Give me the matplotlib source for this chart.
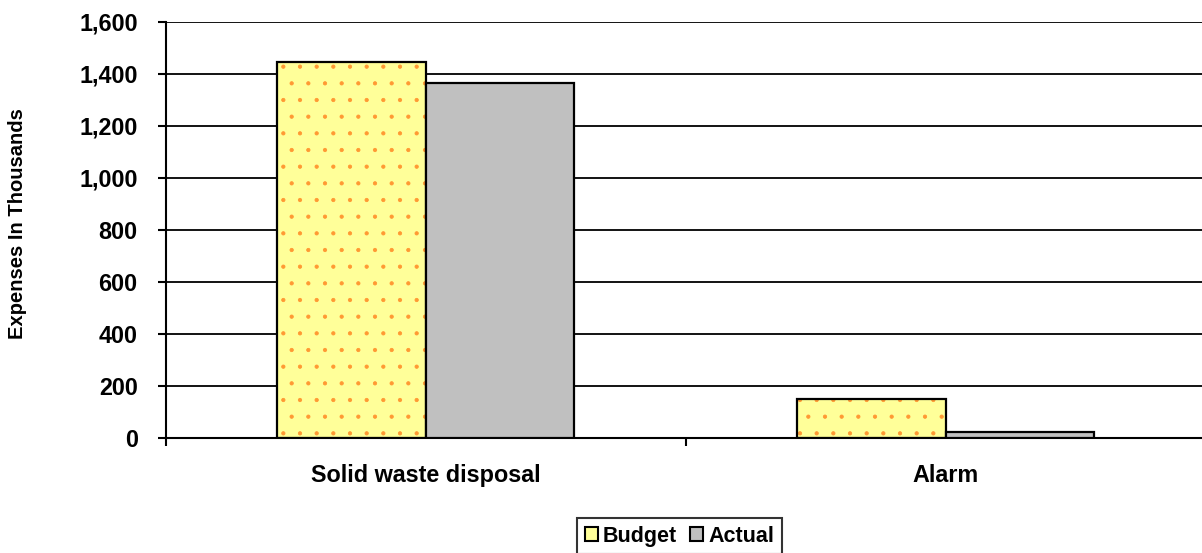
import matplotlib
matplotlib.use("Agg")
import matplotlib.pyplot as plt
from matplotlib.patches import Patch
from matplotlib.ticker import FuncFormatter
import numpy as np

categories = ["Solid waste disposal", "Alarm"]
budget = [1446, 150]
actual = [1365, 24]
series_names = ["Budget", "Actual"]
y_ticks = [0, 200, 400, 600, 800, 1000, 1200, 1400, 1600]

plt.rcParams["font.family"] = ["Liberation Sans", "DejaVu Sans"]
plt.rcParams["font.weight"] = "bold"
plt.rcParams["hatch.linewidth"] = 0.6

W, H = 1202, 553
fig = plt.figure(figsize=(W / 100, H / 100), dpi=100)
ax = fig.add_axes([165.5 / W, 115 / H, 1040 / W, 416 / H])

yellow = "#FFFF99"
grey = "#C0C0C0"
dots = "#FF9933"

x = np.arange(len(categories))
bw = 0.286

# budget bars: yellow fill, orange dot pattern, black outline
ax.bar(x - bw / 2, budget, bw, color=yellow, edgecolor="none", zorder=2)
ax.bar(x - bw / 2, budget, bw, facecolor="none", edgecolor=dots, hatch=".",
       linewidth=0, zorder=3)
ax.bar(x - bw / 2, budget, bw, facecolor="none", edgecolor="black",
       linewidth=1.6, zorder=4)
# actual bars
ax.bar(x + bw / 2, actual, bw, color=grey, edgecolor="black", linewidth=1.6, zorder=4)

ax.set_xlim(-0.5, len(categories) - 0.5)
ax.set_ylim(0, 1600)
ax.set_yticks(y_ticks)
ax.yaxis.set_major_formatter(FuncFormatter(lambda v, p: f"{int(v):,}"))
ax.yaxis.grid(True, color="black", linewidth=1.3, zorder=1)
ax.set_axisbelow(True)

ax.set_xticks(x)
ax.set_xticklabels(categories)
ax.set_xticks(np.arange(len(categories) + 1) - 0.5, minor=True)
ax.tick_params(axis="x", which="major", length=0, pad=19, labelsize=16.8)
ax.tick_params(axis="x", which="minor", length=6, width=1.5, direction="out", color="black")
ax.tick_params(axis="y", length=6, width=1.5, pad=14, labelsize=16.8)

for s in ("top", "right"):
    ax.spines[s].set_visible(False)
ax.spines["left"].set_linewidth(1.5)
ax.spines["bottom"].set_linewidth(1.5)

for lbl in ax.get_xticklabels() + ax.get_yticklabels():
    lbl.set_fontweight("bold")

fig.text(18 / W, 1 - 224 / H, "Expenses In Thousands", rotation=90,
         ha="center", va="center", fontsize=14.5, fontweight="bold")

handles = [Patch(facecolor=yellow, edgecolor="black", linewidth=1.5),
           Patch(facecolor=grey, edgecolor="black", linewidth=1.5)]
leg = fig.legend(handles, series_names, loc="upper center",
                 bbox_to_anchor=(679.5 / W, 1 - 518 / H), ncol=2,
                 borderaxespad=0, frameon=True, fancybox=False,
                 handlelength=0.6, handleheight=0.6,
                 handletextpad=0.25, columnspacing=0.6, borderpad=0.35,
                 prop={"size": 15.5, "weight": "bold"})
leg.get_frame().set_edgecolor("black")
leg.get_frame().set_linewidth(1.5)

fig.savefig("out.png", dpi=100)
